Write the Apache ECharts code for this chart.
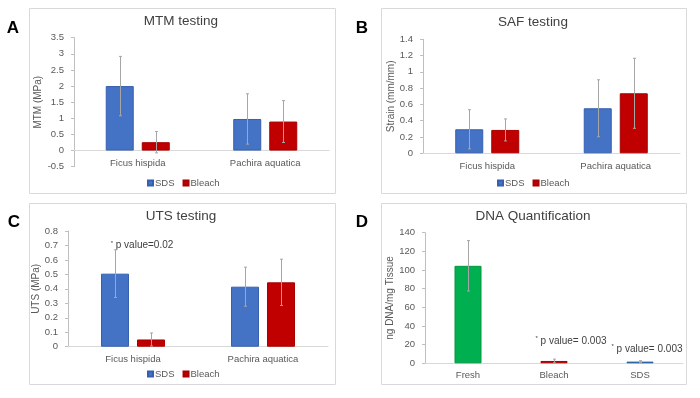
<!DOCTYPE html>
<html><head><meta charset="utf-8">
<script src="https://cdn.jsdelivr.net/npm/echarts@6/dist/echarts.min.js"></script>
<style>html,body{margin:0;padding:0;background:#fff}#c{width:700px;height:398px}</style>
</head><body><div id="c"></div>
<script>
// ---- data ----
const treeCats = ['Ficus hispida', 'Pachira aquatica'];
const mtmSDS = [2.0, 0.98];
const mtmSDSErr = [0.92, 0.78];
const mtmBleach = [0.26, 0.90];
const mtmBleachErr = [0.33, 0.65];
const safSDS = [0.295, 0.553];
const safSDSErr = [0.24, 0.35];
const safBleach = [0.287, 0.737];
const safBleachErr = [0.135, 0.43];
const utsSDS = [0.505, 0.415];
const utsSDSErr = [0.165, 0.135];
const utsBleach = [0.05, 0.445];
const utsBleachErr = [0.045, 0.16];
const dnaCats = ['Fresh', 'Bleach', 'SDS'];
const dnaVals = [104.5, 2.5, 1.8];
const dnaErr = [27, 2, 1];

const FONT = '"Liberation Sans", Arial, sans-serif';
const BLUE = '#4472c4', RED = '#c00000', GREEN = '#00b050', BLUE2 = '#2e75b6';
const AX = '#595959', LINE = '#bfbfbf';

const chart = echarts.init(document.getElementById('c'), null, {renderer: 'canvas'});

function xAx(gi, cats, margin) {
  return {type: 'category', gridIndex: gi, data: cats,
    axisLine: {onZero: true, lineStyle: {color: '#d9d9d9'}}, axisTick: {show: false},
    axisLabel: {color: AX, fontSize: 9.5, fontFamily: FONT, margin: margin}};
}
function yAx(gi, min, max, interval, name, gap) {
  return {type: 'value', gridIndex: gi, min: min, max: max, interval: interval,
    name: name, nameLocation: 'middle', nameGap: gap, nameRotate: 90,
    nameTextStyle: {color: AX, fontSize: 10, fontFamily: FONT},
    splitLine: {show: false},
    axisLine: {show: true, lineStyle: {color: LINE}},
    axisTick: {show: true, length: 3, lineStyle: {color: LINE}},
    axisLabel: {color: AX, fontSize: 9.5, fontFamily: FONT, margin: 10}};
}
function bar(name, gi, data, color, border) {
  return {name: name, type: 'bar', xAxisIndex: gi, yAxisIndex: gi, data: data,
    barWidth: 28, barGap: '28.6%', itemStyle: {color: color, borderColor: border, borderWidth: 1}};
}
function err(gi, vals, errs, offset) {
  return {type: 'custom', xAxisIndex: gi, yAxisIndex: gi, z: 10, silent: true,
    data: vals.map((v, i) => [i, v - errs[i], v + errs[i]]),
    encode: {x: 0, y: [1, 2]},
    renderItem: function (params, api) {
      const lo = api.coord([api.value(0), api.value(1)]);
      const hi = api.coord([api.value(0), api.value(2)]);
      const x = Math.round(lo[0] + offset) + 0.5;
      const st = {stroke: '#a6a6a6', lineWidth: 1};
      return {type: 'group', children: [
        {type: 'line', shape: {x1: x, y1: lo[1], x2: x, y2: hi[1]}, style: st},
        {type: 'line', shape: {x1: x - 1.5, y1: hi[1], x2: x + 1.5, y2: hi[1]}, style: st},
        {type: 'line', shape: {x1: x - 1.5, y1: lo[1], x2: x + 1.5, y2: lo[1]}, style: st}
      ]};
    }};
}
const pRich = {s: {fontSize: 6, padding: [0, 0, 5, 0], color: '#404040', fontFamily: FONT},
               t: {fontSize: 10, color: '#404040', fontFamily: FONT}};
function note(cat, y, text, dx) {
  return {coord: [cat, y], symbol: 'circle', symbolSize: 0,
    label: {show: true, position: 'inside', offset: [dx, 0], formatter: '{s|*}{t| ' + text + '}', rich: pRich}};
}

const titles = [
  ['MTM testing', 181, 21], ['SAF testing', 533, 22], ['UTS testing', 181, 216], ['DNA Quantification', 533, 216]
];
const letters = [['A', 13, 28], ['B', 362, 28], ['C', 14, 222], ['D', 362, 222]];
const boxes = [[29, 8, 306, 185], [381, 8, 305, 185], [29, 203, 306, 181], [381, 203, 305, 181]];

const graphic = [];
boxes.forEach(b => graphic.push({type: 'rect', shape: {x: b[0] + 0.5, y: b[1] + 0.5, width: b[2], height: b[3]},
  style: {fill: 'none', stroke: '#d9d9d9', lineWidth: 1}, z: -10}));
titles.forEach(t => graphic.push({type: 'text', x: t[1], y: t[2],
  style: {text: t[0], fontSize: 13.5, fontFamily: FONT, fill: '#404040', align: 'center', verticalAlign: 'middle'}}));
letters.forEach(t => graphic.push({type: 'text', x: t[1], y: t[2],
  style: {text: t[0], fontSize: 17, fontWeight: 'bold', fontFamily: FONT, fill: '#000', align: 'center', verticalAlign: 'middle'}}));

const legendStyle = {icon: 'rect', itemWidth: 5, itemHeight: 5, itemGap: 8, padding: 0,
  textStyle: {color: AX, fontSize: 9.5, fontFamily: FONT, padding: [0, 0, 0, -3]}, data: ['SDS', 'Bleach'], selectedMode: false};

const safBleachSeries = bar('Bleach', 1, safBleach, RED, '#a80000');
const utsSDSSeries = bar('SDS', 2, utsSDS, BLUE, '#3560b0');
utsSDSSeries.markPoint = {silent: true, data: [note('Ficus hispida', 0.70, 'p value=0.02', 27)]};
const dnaSeries = {name: 'DNA', type: 'bar', xAxisIndex: 3, yAxisIndex: 3, barWidth: 27,
  data: dnaVals.map((v, i) => ({value: v, itemStyle: {color: [GREEN, RED, BLUE2][i], borderColor: ['#00983f', '#a80000', '#2563a0'][i]}})),
  itemStyle: {borderWidth: 1},
  markPoint: {silent: true, data: [note('Bleach', 24, 'p value= 0.003', 17), note('SDS', 15.3, 'p value= 0.003', 7)]}};

chart.setOption({
  animation: false,
  textStyle: {fontFamily: FONT},
  graphic: graphic,
  legend: [
    Object.assign({left: 147, top: 178}, legendStyle),
    Object.assign({left: 497, top: 178}, legendStyle),
    Object.assign({left: 147, top: 369}, legendStyle)
  ],
  grid: [
    {left: 74, right: 371, top: 37.7, bottom: 231.3},
    {left: 423, right: 20, top: 39.3, bottom: 244.7},
    {left: 68, right: 372, top: 231, bottom: 51.3},
    {left: 425, right: 17, top: 232.7, bottom: 34.7}
  ],
  xAxis: [xAx(0, treeCats, -8), xAx(1, treeCats, 8), xAx(2, treeCats, 8), xAx(3, dnaCats, 7)],
  yAxis: [
    yAx(0, -0.5, 3.5, 0.5, 'MTM (MPa)', 29),
    yAx(1, 0, 1.4, 0.2, 'Strain (mm/mm)', 24),
    yAx(2, 0, 0.8, 0.1, 'UTS (MPa)', 23),
    yAx(3, 0, 140, 20, 'ng DNA/mg Tissue', 27)
  ],
  series: [
    bar('SDS', 0, mtmSDS, BLUE, '#3560b0'), bar('Bleach', 0, mtmBleach, RED, '#a80000'),
    err(0, mtmSDS, mtmSDSErr, -18), err(0, mtmBleach, mtmBleachErr, 18),
    bar('SDS', 1, safSDS, BLUE, '#3560b0'), safBleachSeries,
    err(1, safSDS, safSDSErr, -18), err(1, safBleach, safBleachErr, 18),
    utsSDSSeries, bar('Bleach', 2, utsBleach, RED, '#a80000'),
    err(2, utsSDS, utsSDSErr, -18), err(2, utsBleach, utsBleachErr, 18),
    dnaSeries, err(3, dnaVals, dnaErr, 0)
  ]
});
</script></body></html>
